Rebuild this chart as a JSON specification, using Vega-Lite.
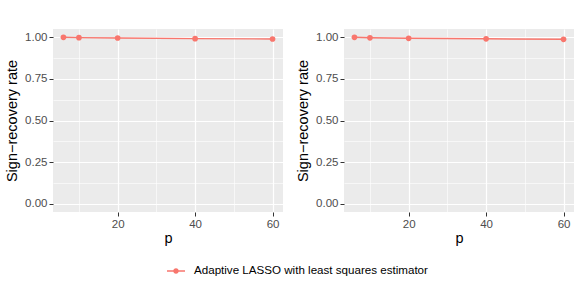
{
  "$schema": "https://vega.github.io/schema/vega-lite/v6.json",
  "padding": {"left": 4, "top": 29, "right": 8, "bottom": 5},
  "background": "white",
  "datasets": {
    "left": [
      {"p": 6, "rate": 1.000, "method": "Adaptive LASSO with least squares estimator"},
      {"p": 10, "rate": 0.998, "method": "Adaptive LASSO with least squares estimator"},
      {"p": 20, "rate": 0.996, "method": "Adaptive LASSO with least squares estimator"},
      {"p": 40, "rate": 0.992, "method": "Adaptive LASSO with least squares estimator"},
      {"p": 60, "rate": 0.990, "method": "Adaptive LASSO with least squares estimator"}
    ],
    "right": [
      {"p": 6, "rate": 1.000, "method": "Adaptive LASSO with least squares estimator"},
      {"p": 10, "rate": 0.997, "method": "Adaptive LASSO with least squares estimator"},
      {"p": 20, "rate": 0.994, "method": "Adaptive LASSO with least squares estimator"},
      {"p": 40, "rate": 0.991, "method": "Adaptive LASSO with least squares estimator"},
      {"p": 60, "rate": 0.988, "method": "Adaptive LASSO with least squares estimator"}
    ]
  },
  "config": {
    "font": "Liberation Sans",
    "view": {"fill": "#EBEBEB", "stroke": null},
    "axis": {
      "domain": false,
      "gridColor": "white",
      "tickColor": "#333333",
      "tickSize": 4,
      "labelColor": "#4D4D4D",
      "labelFontSize": 11.5,
      "labelFont": "Liberation Sans",
      "titleFont": "Liberation Sans",
      "titleFontSize": 14.5,
      "titleFontWeight": "normal",
      "titleColor": "black",
      "labelPadding": 2
    },
    "legend": {"labelFont": "Liberation Sans"}
  },
  "hconcat": [
    {
      "width": 230,
      "height": 183,
      "data": {"name": "left"},
      "encoding": {
        "x": {"field": "p", "type": "quantitative", "scale": {"domain": [3.3, 62.7], "nice": false, "zero": false},
          "axis": {"title": "p", "values": [10, 20, 30, 40, 50, 60], "labelExpr": "datum.value % 20 === 0 ? datum.label : ''",
            "tickOpacity": {"condition": {"test": "datum.value % 20 !== 0", "value": 0}, "value": 1},
            "gridWidth": {"condition": {"test": "datum.value % 20 !== 0", "value": 0.6}, "value": 1.2},
            "titlePadding": 2, "labelFlush": false}},
        "y": {"field": "rate", "type": "quantitative", "scale": {"domain": [-0.05, 1.05], "nice": false},
          "axis": {"title": "Sign\u2212recovery rate", "values": [0, 0.125, 0.25, 0.375, 0.5, 0.625, 0.75, 0.875, 1], "format": ".2f",
            "labelExpr": "(datum.value * 4) % 1 === 0 ? datum.label : ''",
            "tickOpacity": {"condition": {"test": "(datum.value * 4) % 1 !== 0", "value": 0}, "value": 1},
            "gridWidth": {"condition": {"test": "(datum.value * 4) % 1 !== 0", "value": 0.6}, "value": 1.2},
            "titlePadding": 5, "labelFlush": false}},
        "color": {"field": "method", "type": "nominal", "scale": {"range": ["#F8766D"]},
          "legend": {"title": null, "orient": "none", "legendX": 114, "legendY": 233, "direction": "vertical",
            "labelFontSize": 11.6, "labelColor": "black", "labelLimit": 0, "labelOffset": 9,
            "symbolType": "M -1 -0.08 H -0.3 V 0.08 H -1 Z M 0.3 -0.08 H 1 V 0.08 H 0.3 Z M 0.31 0 A 0.31 0.31 0 1 1 -0.31 0 A 0.31 0.31 0 1 1 0.31 0 Z",
            "symbolSize": 324, "symbolStrokeWidth": 0, "symbolOpacity": 1, "padding": 0}}
      },
      "layer": [
        {"mark": {"type": "line", "strokeWidth": 1.4}},
        {"mark": {"type": "point", "filled": true, "size": 32, "opacity": 1}}
      ]
    },
    {
      "width": 230,
      "height": 183,
      "data": {"name": "right"},
      "encoding": {
        "x": {"field": "p", "type": "quantitative", "scale": {"domain": [3.3, 62.7], "nice": false, "zero": false},
          "axis": {"title": "p", "values": [10, 20, 30, 40, 50, 60], "labelExpr": "datum.value % 20 === 0 ? datum.label : ''",
            "tickOpacity": {"condition": {"test": "datum.value % 20 !== 0", "value": 0}, "value": 1},
            "gridWidth": {"condition": {"test": "datum.value % 20 !== 0", "value": 0.6}, "value": 1.2},
            "titlePadding": 2, "labelFlush": false}},
        "y": {"field": "rate", "type": "quantitative", "scale": {"domain": [-0.05, 1.05], "nice": false},
          "axis": {"title": "Sign\u2212recovery rate", "values": [0, 0.125, 0.25, 0.375, 0.5, 0.625, 0.75, 0.875, 1], "format": ".2f",
            "labelExpr": "(datum.value * 4) % 1 === 0 ? datum.label : ''",
            "tickOpacity": {"condition": {"test": "(datum.value * 4) % 1 !== 0", "value": 0}, "value": 1},
            "gridWidth": {"condition": {"test": "(datum.value * 4) % 1 !== 0", "value": 0.6}, "value": 1.2},
            "titlePadding": 5, "labelFlush": false}},
        "color": {"field": "method", "type": "nominal", "scale": {"range": ["#F8766D"]}}
      },
      "layer": [
        {"mark": {"type": "line", "strokeWidth": 1.4}},
        {"mark": {"type": "point", "filled": true, "size": 32, "opacity": 1}}
      ]
    }
  ],
  "spacing": 12,
  "resolve": {"legend": {"color": "shared"}}
}
